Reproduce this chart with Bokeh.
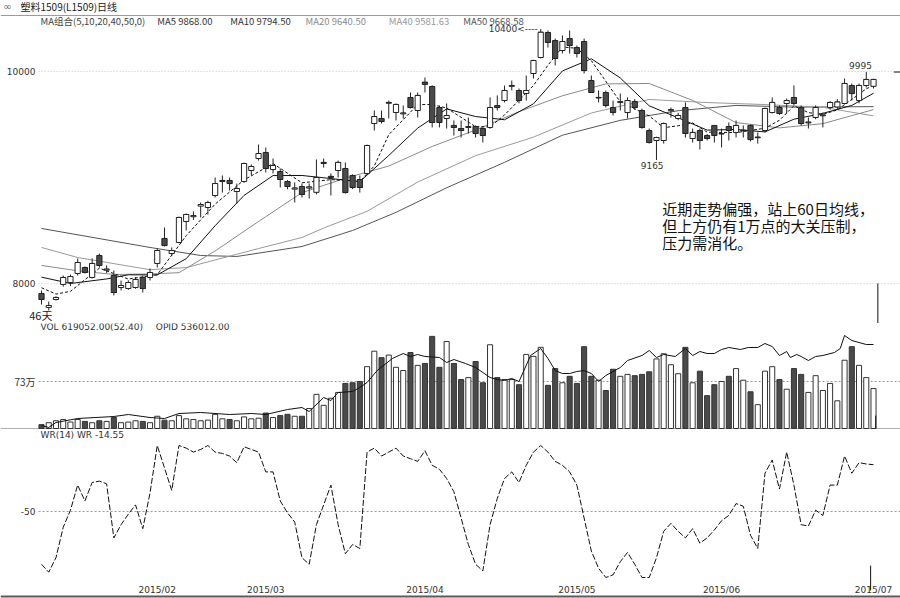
from bokeh.plotting import figure
from bokeh.models import Range1d, ColumnDataSource
from bokeh.layouts import column
from bokeh.embed import file_html
from bokeh.resources import INLINE
from bokeh.core.properties import value

# ---------------- data ----------------
opens = [7906, 7774, 7849, 7991, 8009, 8094, 8151, 8057, 8264, 8125,
         8075, 7962, 7953, 7962, 8057, 8057, 8189, 8425, 8283, 8387,
         8585, 8630, 8730, 8717, 8830, 8962, 8972, 8868, 8962, 9066,
         9179, 9236, 9075, 9057, 8962, 8890, 8915, 8900, 8860, 9132,
         9000, 9066, 9085, 9019, 8981, 9038, 9509, 9557, 9700, 9613,
         9600, 9755, 9632, 9900, 9858, 9660, 9557, 9491, 9462, 9472,
         9481, 9462, 9472, 9679, 9726, 9860, 9821, 9792, 9981, 10132,
         10368, 10292, 10198, 10311, 10226, 10283, 9915, 9750, 9802, 9660,
         9708, 9613, 9717, 9632, 9443, 9349, 9349, 9630, 9557, 9660,
         9368, 9443, 9396, 9491, 9410, 9481, 9425, 9440, 9491, 9375,
         9443, 9613, 9660, 9698, 9755, 9660, 9515, 9566, 9582, 9660,
         9665, 9698, 9868, 9726, 9868, 9860]
highs = [7934, 7830, 7880, 8075, 8085, 8236, 8160, 8236, 8283, 8170,
         8123, 8028, 8030, 8060, 8075, 8142, 8330, 8528, 8340, 8630,
         8660, 8680, 8764, 8780, 9000, 9019, 9000, 8943, 9140, 9123,
         9311, 9283, 9179, 9085, 8975, 8953, 8943, 8943, 9170, 9179,
         9038, 9160, 9142, 9030, 9019, 9310, 9632, 9632, 9726, 9698,
         9679, 9802, 9802, 9943, 9870, 9679, 9698, 9538, 9538, 9566,
         9491, 9472, 9755, 9774, 9868, 9915, 9840, 9962, 10110, 10400,
         10387, 10311, 10340, 10387, 10245, 10311, 9962, 9821, 9820, 9726,
         9792, 9755, 9740, 9650, 9462, 9385, 9519, 9660, 9610, 9708,
         9462, 9462, 9410, 9495, 9462, 9519, 9538, 9491, 9500, 9425,
         9660, 9755, 9680, 9745, 9868, 9680, 9566, 9680, 9613, 9720,
         9740, 9934, 9887, 9887, 9995, 9930]
lows = [7802, 7745, 7840, 7970, 7975, 8075, 8094, 8047, 8151, 8100,
        7887, 7934, 7940, 7950, 7915, 8028, 8151, 8350, 8260, 8380,
        8500, 8600, 8623, 8650, 8811, 8858, 8877, 8755, 8950, 9019,
        9160, 9047, 9038, 8906, 8890, 8764, 8811, 8802, 8840, 9094,
        8830, 9000, 8849, 8890, 8858, 9030, 9443, 9509, 9557, 9538,
        9557, 9651, 9566, 9802, 9472, 9472, 9462, 9396, 9377, 9415,
        9377, 9330, 9460, 9632, 9708, 9821, 9700, 9726, 9934, 10123,
        10226, 10057, 10170, 10170, 10132, 9981, 9802, 9708, 9660, 9585,
        9632, 9557, 9640, 9460, 9320, 9165, 9320, 9566, 9540, 9377,
        9330, 9264, 9350, 9330, 9283, 9349, 9377, 9377, 9340, 9320,
        9425, 9604, 9590, 9604, 9679, 9490, 9462, 9550, 9472, 9640,
        9640, 9690, 9726, 9700, 9849, 9840]
closes = [7849, 7792, 7868, 8057, 8066, 8198, 8104, 8189, 8170, 8135,
          7915, 7981, 8009, 8038, 7953, 8104, 8311, 8358, 8311, 8623,
          8651, 8640, 8745, 8764, 8943, 8972, 8943, 8896, 9132, 9104,
          9226, 9085, 9113, 8981, 8915, 8900, 8840, 8910, 9000, 9142,
          9010, 9142, 8858, 8906, 8906, 9302, 9575, 9528, 9708, 9689,
          9608, 9660, 9774, 9880, 9519, 9519, 9585, 9472, 9443, 9480,
          9415, 9396, 9660, 9660, 9821, 9868, 9726, 9821, 10104, 10370,
          10274, 10123, 10283, 10245, 10170, 10009, 9802, 9755, 9679, 9613,
          9715, 9726, 9660, 9472, 9330, 9377, 9509, 9640, 9585, 9415,
          9425, 9349, 9368, 9396, 9415, 9443, 9491, 9445, 9358, 9380,
          9651, 9708, 9604, 9726, 9698, 9509, 9522, 9660, 9588, 9708,
          9712, 9887, 9792, 9868, 9925, 9925]

# volume, unit: 万 (10k lots)
volume = [6, 9, 12, 14, 10, 14, 11, 9, 12, 11,
          17, 9, 10, 12, 11, 9, 19, 13, 12, 20,
          15, 14, 12, 13, 22, 15, 14, 12, 18, 15,
          16, 24, 17, 20, 22, 19, 19, 31, 53, 36,
          47, 56, 70, 71, 73, 96, 120, 110, 114, 95,
          90, 118, 98, 101, 143, 95, 135, 101, 76, 79,
          104, 71, 130, 79, 76, 76, 68, 115, 112, 126,
          67, 93, 71, 81, 70, 127, 81, 75, 59, 92,
          81, 84, 82, 84, 88, 108, 116, 99, 85, 126,
          71, 89, 51, 68, 73, 81, 93, 75, 57, 37,
          89, 96, 76, 61, 93, 84, 56, 82, 59, 70,
          43, 106, 127, 98, 79, 62]

# open interest (万), read at these bar indices
opi_idx = [0, 1, 2, 5, 10, 12, 15, 17, 19, 22, 26, 29, 31, 34, 36, 37, 39, 40, 41, 43,
           44, 45, 46.4, 48.5, 50, 51, 52, 53, 55, 56, 57, 58.6, 60, 61, 62, 63, 64, 65,
           66, 67.6, 69, 70, 71, 72, 73, 74, 75, 76, 77, 78, 80, 81, 83, 84, 85, 86, 87.6,
           89, 90, 91, 92, 93, 94, 95, 96.6, 97.7, 99, 100, 101, 102, 103, 103.5, 104.4,
           105, 106, 107, 108, 109.6, 110.4, 111, 112, 113, 114, 115]
opi_val = [21.2, 20.4, 22.4, 24.0, 24.8, 25.6, 24.4, 24.0, 26.0, 26.4, 25.6, 26.0, 25.6,
           27.6, 28.4, 26.8, 32.4, 31.2, 34.4, 34.8, 36.4, 38.4, 43.2, 48.0, 50.0, 48.8,
           49.6, 48.8, 48.4, 46.4, 47.6, 46.0, 44.4, 42.4, 40.4, 39.6, 39.2, 40.0, 38.8,
           49.2, 52.0, 48.0, 43.2, 42.0, 42.0, 42.8, 43.2, 42.0, 38.8, 41.2, 44.4, 47.2,
           49.2, 51.2, 48.4, 49.6, 48.8, 52.0, 49.2, 50.8, 50.0, 50.0, 51.6, 52.4, 51.6,
           52.4, 52.4, 54.0, 52.8, 49.2, 50.8, 48.4, 49.6, 48.8, 47.2, 48.8, 49.2, 50.4,
           52.0, 57.2, 55.2, 54.4, 53.6, 53.6]

# moving averages, read at these bar indices
ma5_idx = [0, 2, 4, 8, 12, 16, 20, 24, 28, 32, 36, 40, 44, 46, 48, 52, 54, 56, 60, 62,
           64, 68, 70, 72, 74, 76, 80, 84, 86, 88, 90, 92, 96, 100, 102, 104, 106, 108,
           110, 112, 114, 115]
ma5_val = [7960, 7900, 7926, 8145, 8042, 8083, 8451, 8749, 8977, 9132, 8950, 8980, 8964,
           9109, 9404, 9688, 9688, 9655, 9479, 9479, 9590, 9868, 10059, 10231, 10219,
           10102, 9713, 9581, 9470, 9488, 9515, 9428, 9423, 9465, 9540, 9677, 9612, 9595,
           9638, 9737, 9837, 9868]
ma10_idx = [0, 4, 9, 12, 16, 20, 24, 28, 32, 36, 40, 44, 48, 52, 56, 60, 64, 68, 72, 76,
            80, 84, 88, 92, 96, 100, 104, 108, 112, 115]
ma10_val = [8060, 8000, 8043, 8082, 8081, 8234, 8545, 8831, 9018, 9019, 8990, 8961, 9208,
            9466, 9647, 9575, 9545, 9695, 10005, 10120, 9939, 9676, 9563, 9447, 9453,
            9430, 9550, 9605, 9680, 9794.5]
ma20_idx = [0, 5, 10, 15, 19, 24, 30, 36, 42, 48, 54, 60, 66, 72, 78, 84, 90, 96, 102, 108, 115]
ma20_val = [8170, 8120, 8085, 8090, 8102, 8307, 8585, 8857, 8994, 9108, 9293, 9448, 9621,
            9771, 9883, 9887, 9727, 9518, 9468, 9508, 9640.5]
ma40_idx = [0, 5, 15, 20, 30, 36, 39, 45, 52, 60, 68, 76, 84, 92, 100, 108, 115]
ma40_val = [8340, 8245, 8130, 8150, 8330, 8434, 8523, 8681, 8957, 9206, 9381, 9609, 9736,
            9707, 9688, 9662, 9581.63]
ma50_idx = [0, 15, 22, 27, 36, 43, 49, 56, 64, 72, 80, 88, 96, 104, 115]
ma50_val = [8519, 8340, 8264, 8255, 8349, 8500, 8671, 8903, 9143, 9399, 9539, 9630, 9680,
            9664, 9668.58]

# Williams %R (14)
wr = [-90, -96, -85, -62, -49, -30, -42, -28, -27, -29,
      -70, -60, -52, -45, -63, -36, 0, -17, -34, 0,
      -2, -5, -3, 0, -5, -6, -8, -13, -1, -3,
      -5, -20, -20, -42, -51, -58, -85, -90, -60, -45,
      -30, -60, -82, -75, -78, -5, -2, -8, -5, -2,
      -8, -10, -12, -4, -15, -18, -25, -35, -55, -75,
      -90, -95, -60, -40, -25, -20, -28, -15, -5, 0,
      -5, -12, -15, -20, -30, -55, -80, -93, -100, -98,
      -88, -81, -90, -100, -100, -85, -65, -59, -65, -70,
      -63, -74, -70, -64, -57, -53, -44, -46, -68, -78,
      -21, -11, -33, -5, -30, -60, -61, -49, -53, -30,
      -30, -8, -21, -13, -14, -14.55]

month_idx = [16, 31, 53, 74, 94, 115]
month_labels = ["2015/02", "2015/03", "2015/04", "2015/05", "2015/06", "2015/07"]
price_ticks = [10000, 8000]
vol_tick = 73
wr_tick = -50

# ---------------- styling / layout ----------------
X0, X1 = -5.667, 118.73
W = 900
LAT = value("DejaVu Sans")
CJK = value("Noto Sans CJK SC")
DARK = "#4a4a4a"
TXT = "#333333"

n = len(closes)
xs = list(range(n))
top = [max(o, c) for o, c in zip(opens, closes)]
bot = [min(o, c) for o, c in zip(opens, closes)]
fill = ["white" if c >= o else DARK for o, c in zip(opens, closes)]
src = ColumnDataSource(dict(x=xs, o=opens, h=highs, l=lows, c=closes, top=top, bot=bot,
                            fill=fill, vol=volume,
                            xl=[i - 0.36 for i in xs], xr=[i + 0.36 for i in xs]))

xr = Range1d(X0, X1)


def mkfig(h, y0, y1):
    return figure(width=W, height=h, x_range=xr, y_range=Range1d(y0, y1),
                  x_axis_type=None, y_axis_type=None, toolbar_location=None,
                  output_backend="svg", min_border=0, outline_line_color=None,
                  background_fill_color="white", border_fill_color="white")


# ---------- price panel ----------
p1 = mkfig(323, 7622.6, 10669.8)
p1.segment(x0=[X0], x1=[X1], y0=[10528], y1=[10528], line_color="#9a9a9a", line_width=1)
p1.segment(x0=[-0.4] * 2, x1=[X1] * 2, y0=price_ticks, y1=price_ticks,
           line_color="#c8c8c8", line_dash="1 2")

p1.line(ma50_idx, ma50_val, line_color="#555555", line_width=1)
p1.line(ma40_idx, ma40_val, line_color="#9a9a9a", line_width=1)
p1.line(ma20_idx, ma20_val, line_color="#8a8a8a", line_width=1)
p1.line(ma10_idx, ma10_val, line_color="#111111", line_width=1)
p1.line(ma5_idx, ma5_val, line_color="#111111", line_width=1, line_dash="3 2")

p1.segment(x0="x", y0="l", x1="x", y1="h", source=src, line_color="#222222", line_width=1)
p1.segment(x0="xl", y0="c", x1="xr", y1="c", source=src, line_color="#222222", line_width=1)
p1.vbar(x="x", top="top", bottom="bot", width=0.72, fill_color="fill",
        line_color="#222222", line_width=1, source=src)

p1.text(x=[-0.83] * 2, y=price_ticks, text=[str(v) for v in price_ticks], text_font=LAT,
        text_font_size="9px", text_align="right", text_baseline="middle", text_color=TXT)
p1.text(x=[-2.9], y=[10613], text=["塑料1509(L1509)日线"], text_font=CJK,
        text_font_size="10px", text_baseline="middle", text_color="#222222")
p1.text(x=[-5.3], y=[10613], text=["∞"], text_font=LAT,
        text_font_size="10px", text_baseline="middle", text_color="#666666")
p1.text(x=[-0.14, 16.0, 26.1, 36.5, 48.0, 58.3], y=[10481] * 6,
        text=["MA组合(5,10,20,40,50,0)", "MA5 9868.00", "MA10 9794.50", "MA20 9640.50",
              "MA40 9581.63", "MA50 9668.58"],
        text_color=["#444444", "#333333", "#333333", "#8a8a8a", "#9a9a9a", "#555555"],
        text_font=CJK, text_font_size="9.5px", text_baseline="middle")
p1.text(x=[68.6], y=[10400], text=["10400<----"], text_font=LAT, text_font_size="9px",
        text_align="right", text_baseline="middle", text_color=TXT)
p1.text(x=[84.4], y=[9165], y_offset=2, text=["9165"], text_font=LAT, text_font_size="9px",
        text_align="center", text_baseline="top", text_color=TXT)
p1.text(x=[113.2], y=[9995], y_offset=-3, text=["9995"], text_font=LAT, text_font_size="9px",
        text_align="center", text_baseline="bottom", text_color=TXT)
p1.text(x=[-1.7], y=[7700], text=["46天"], text_font=CJK, text_font_size="11px",
        text_baseline="middle", text_color="#222222")
p1.text(x=[85.8] * 3, y=[8708, 8547, 8387],
        text=["近期走势偏强，站上60日均线，", "但上方仍有1万点的大关压制，", "压力需消化。"],
        text_font=CJK, text_font_size="15px", text_baseline="middle", text_color="#111111")
p1.segment(x0=[115.6], x1=[115.6], y0=[8000], y1=[7622.6], line_color="#111111")
p1.segment(x0=[117.8], x1=[X1], y0=[closes[-1] + 70], y1=[closes[-1] + 70],
           line_color="#111111")

# ---------- volume panel ----------
p2 = mkfig(107, -3.1, 163.0)
p2.extra_y_ranges = {"opi": Range1d(19.2, 62.0)}
p2.segment(x0=[-0.4], x1=[X1], y0=[vol_tick], y1=[vol_tick], line_color="#9a9a9a",
           line_dash="2 2")
p2.segment(x0=[X0], x1=[X1], y0=[0], y1=[0], line_color="#b0b0b0")
p2.vbar(x="x", top="vol", bottom=0, width=0.7, fill_color="fill", line_color="#333333",
        line_width=1, source=src)
p2.line(opi_idx, opi_val, y_range_name="opi", line_color="#111111", line_width=1)
p2.text(x=[-0.83], y=[vol_tick], text=[f"{vol_tick}万"], text_font=CJK, text_font_size="10px",
        text_align="right", text_baseline="middle", text_color=TXT)
p2.text(x=[-0.14, 15.8], y=[156.8] * 2, text=["VOL  619052.00(52.40)", "OPID  536012.00"],
        text_font=LAT, text_font_size="9px", text_baseline="middle", text_color=TXT)
p2.segment(x0=[115.3], x1=[115.3], y0=[0], y1=[20], line_color="#111111")

# ---------- WR panel ----------
p3 = mkfig(168, -115.9, 11.36)
p3.segment(x0=[-0.4], x1=[X1], y0=[wr_tick], y1=[wr_tick], line_color="#9a9a9a",
           line_dash="2 2")
p3.line(xs, wr, line_color="#111111", line_width=1, line_dash="6 2")
p3.text(x=[-0.83], y=[wr_tick], text=[str(wr_tick)], text_font=LAT, text_font_size="9px",
        text_align="right", text_baseline="middle", text_color=TXT)
p3.text(x=[-0.14], y=[7.6], text=["WR(14)  WR  -14.55"], text_font=LAT,
        text_font_size="9px", text_baseline="middle", text_color=TXT)
p3.text(x=month_idx, y=[-109.1] * len(month_idx), text=month_labels, text_font=LAT,
        text_font_size="9px", text_align="center", text_baseline="middle", text_color=TXT)
p3.segment(x0=[114.6], x1=[114.6], y0=[-91], y1=[-109.8], line_color="#111111")
p3.segment(x0=[X0], x1=[X1], y0=[-114.4], y1=[-114.4], line_color="#5a5a5a", line_width=2)

layout = column(p1, p2, p3, spacing=0)
open("out.html", "w").write(file_html(layout, INLINE))
